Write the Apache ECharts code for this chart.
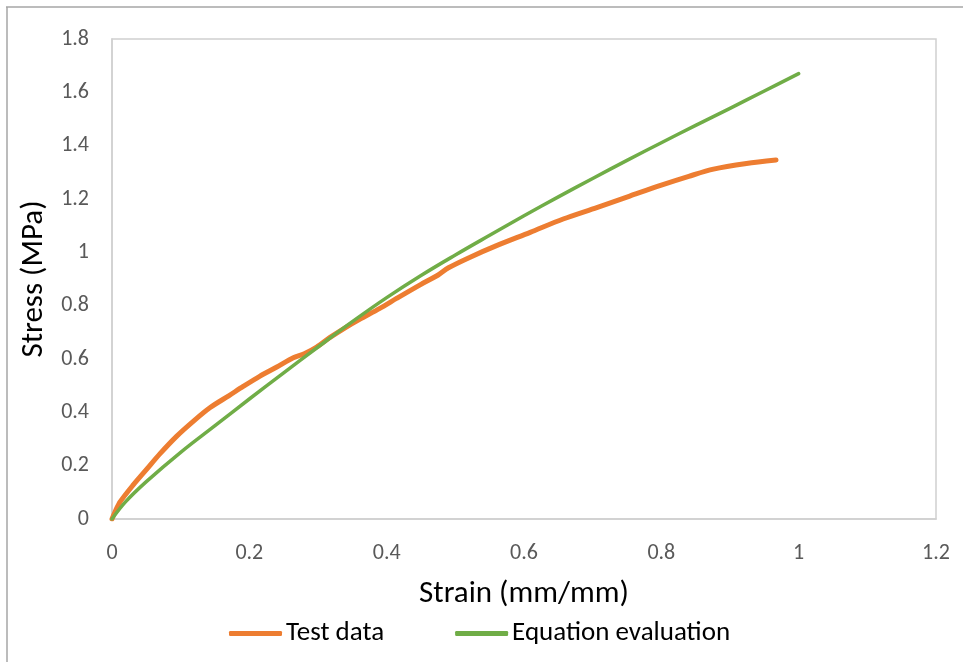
<!DOCTYPE html>
<html>
<head>
<meta charset="utf-8">
<script src="https://cdn.jsdelivr.net/npm/echarts@6/dist/echarts.min.js"></script>
<style>
  html, body { margin: 0; padding: 0; background: #fff; }
  #chart { width: 963px; height: 662px; }
</style>
</head>
<body>
<div id="chart"></div>
<script>
// Measured stress-strain curve
const strainTest = [0, 0.005, 0.012, 0.03, 0.05, 0.07, 0.094, 0.12, 0.143, 0.17, 0.191, 0.215, 0.24, 0.264, 0.28, 0.298, 0.317, 0.34, 0.36, 0.39, 0.415, 0.45, 0.475, 0.49, 0.52, 0.56, 0.609, 0.657, 0.706, 0.754, 0.8, 0.84, 0.876, 0.924, 0.967];
const stressTest = [0, 0.03, 0.065, 0.125, 0.185, 0.245, 0.31, 0.37, 0.418, 0.462, 0.497, 0.535, 0.57, 0.605, 0.62, 0.645, 0.68, 0.718, 0.748, 0.79, 0.828, 0.88, 0.915, 0.942, 0.98, 1.025, 1.075, 1.125, 1.168, 1.211, 1.252, 1.285, 1.312, 1.333, 1.346];

// Model curve evaluated at fixed strains
const strainEq = [0, 0.02, 0.05, 0.1, 0.15, 0.2, 0.25, 0.3, 0.35, 0.4, 0.45, 0.5, 0.55, 0.6, 0.65, 0.7, 0.75, 0.8, 0.85, 0.9, 0.95, 1.0];
const stressEq = [0, 0.065, 0.14, 0.25, 0.35, 0.45, 0.548, 0.645, 0.74, 0.83, 0.913, 0.99, 1.064, 1.137, 1.208, 1.277, 1.345, 1.411, 1.476, 1.54, 1.605, 1.67];

const seriesNames = ['Test data', 'Equation evaluation'];
const xTicks = { min: 0, max: 1.2, step: 0.2 };
const yTicks = { min: 0, max: 1.8, step: 0.2 };

const FONT = 'Carlito, Calibri, Lato, sans-serif';

const pairs = (xs, ys) => xs.map((x, i) => [x, ys[i]]);

const chart = echarts.init(document.getElementById('chart'), null, { renderer: 'canvas' });

chart.setOption({
  backgroundColor: '#ffffff',
  animation: false,
  textStyle: { fontFamily: FONT },
  grid: {
    left: 112, top: 39, right: 27, bottom: 143,
    show: true, borderColor: '#d0d0d0', borderWidth: 1.5,
    containLabel: false
  },
  legend: {
    left: 224, top: 615,
    itemGap: 71,
    itemWidth: 53, itemHeight: 5,
    icon: 'roundRect',
    textStyle: { fontFamily: FONT, fontSize: 27, color: '#000000', padding: [0, 0, 0, -1] },
    data: seriesNames
  },
  xAxis: {
    type: 'value',
    min: xTicks.min, max: xTicks.max, interval: xTicks.step,
    name: 'Strain (mm/mm)',
    nameLocation: 'middle',
    nameGap: 60,
    nameTextStyle: { fontFamily: FONT, fontSize: 31, color: '#000000' },
    axisLine: { show: true, lineStyle: { color: '#d0d0d0', width: 1.5 } },
    axisTick: { show: false },
    splitLine: { show: false },
    axisLabel: { fontFamily: FONT, fontSize: 22, color: '#595959', margin: 23 }
  },
  yAxis: {
    type: 'value',
    min: yTicks.min, max: yTicks.max, interval: yTicks.step,
    name: 'Stress (MPa)',
    nameLocation: 'middle',
    nameGap: 60,
    nameRotate: 90,
    nameTextStyle: { fontFamily: FONT, fontSize: 31, color: '#000000' },
    axisLine: { show: true, lineStyle: { color: '#d0d0d0', width: 1.5 } },
    axisTick: { show: false },
    splitLine: { show: false },
    axisLabel: { fontFamily: FONT, fontSize: 22, color: '#595959', margin: 23 }
  },
  series: [
    {
      name: seriesNames[0],
      type: 'line',
      data: pairs(strainTest, stressTest),
      showSymbol: false,
      symbol: 'none',
      smooth: 0.3,
      lineStyle: { color: '#ED7D31', width: 5, cap: 'round', join: 'round' },
      itemStyle: { color: '#ED7D31' },
      z: 2
    },
    {
      name: seriesNames[1],
      type: 'line',
      data: pairs(strainEq, stressEq),
      showSymbol: false,
      symbol: 'none',
      smooth: 0.4,
      lineStyle: { color: '#70AD47', width: 3.5, cap: 'round', join: 'round' },
      itemStyle: { color: '#70AD47' },
      z: 3
    }
  ],
  graphic: [
    // outer frame edges (top and left)
    { type: 'line', shape: { x1: 6, y1: 7, x2: 963, y2: 7 }, style: { stroke: '#a6a6a6', lineWidth: 1.5 }, silent: true },
    { type: 'line', shape: { x1: 7, y1: 7, x2: 7, y2: 662 }, style: { stroke: '#a6a6a6', lineWidth: 1.5 }, silent: true }
  ]
});
</script>
</body>
</html>
